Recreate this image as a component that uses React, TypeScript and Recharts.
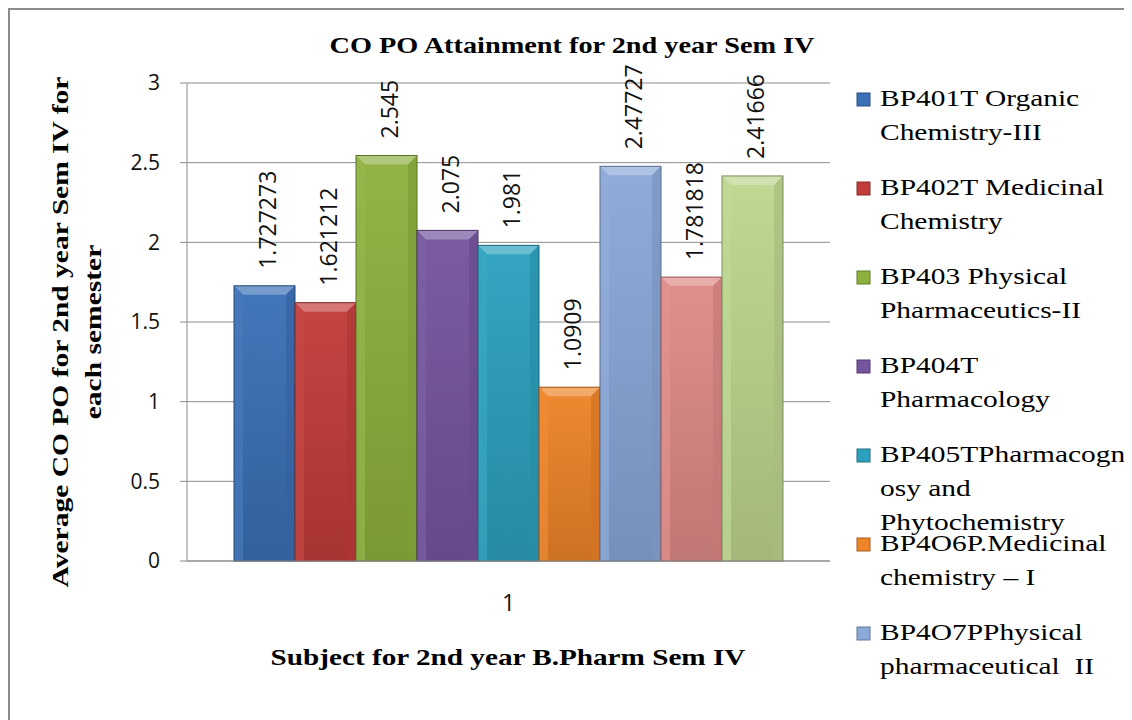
import React from "react";
import { BarChart, Bar, XAxis, YAxis, CartesianGrid, LabelList } from "recharts";

// one category, nine subjects (legend is clipped after the 7th entry in the original)
const categories = ["1"];
const seriesNames = [
  "BP401T Organic\nChemistry-III",
  "BP402T Medicinal\nChemistry",
  "BP403 Physical\nPharmaceutics-II",
  "BP404T\nPharmacology",
  "BP405TPharmacogn\nosy and\nPhytochemistry",
  "BP4O6P.Medicinal\nchemistry – I",
  "BP4O7PPhysical\npharmaceutical  II",
  "BP4O8P\nPharmacology-I",
  "BP4O9P\nPharmacognosy-I",
];
const seriesValues = [1.727273, 1.621212, 2.545, 2.075, 1.981, 1.0909, 2.47727, 1.781818, 2.41666];
const seriesColors = [
  "#3b70b7", "#c23d3a", "#8db13f", "#75559e", "#2ca1be",
  "#ee8428", "#8aa8d8", "#e08a88", "#bdd68e",
];
const yTicks = [0, 0.5, 1, 1.5, 2, 2.5, 3];

const title = "CO PO Attainment for 2nd year Sem IV";
const xTitle = "Subject for 2nd year B.Pharm Sem IV";
const yTitle = ["Average CO PO for 2nd year Sem IV for", "each semester"];

const data = categories.map((name) => {
  const row: Record<string, string | number> = { name };
  seriesValues.forEach((v, i) => (row["s" + i] = v));
  return row;
});

const serif = "'Liberation Serif', 'Times New Roman', serif";
const sans = "'Open Sans', sans-serif";

const CHART_W = 1120;
const CHART_H = 712;
const LEGEND_TOP = 96;
const LEGEND_STEP = 89;
const LINE_H = 34;

function shade(hex: string, amt: number) {
  const n = parseInt(hex.slice(1), 16);
  const ch = [(n >> 16) & 255, (n >> 8) & 255, n & 255].map((c) =>
    Math.round(amt >= 0 ? c + (255 - c) * amt : c * (1 + amt))
  );
  return "rgb(" + ch.join(",") + ")";
}

function BevelBar(props: any) {
  const { x, y, width, height, color, idx } = props;
  if (!height || height <= 0) return null;
  const b = Math.min(9, width / 4, height / 2);
  const id = "bar-grad-" + idx;
  return (
    <g>
      <defs>
        <linearGradient id={id} x1="0" y1="0" x2="0" y2="1">
          <stop offset="0" stopColor={shade(color, 0.04)} />
          <stop offset="1" stopColor={shade(color, -0.14)} />
        </linearGradient>
      </defs>
      <rect x={x} y={y} width={width} height={height} fill={`url(#${id})`} />
      <polygon
        points={`${x},${y} ${x + width},${y} ${x + width - b},${y + b} ${x + b},${y + b}`}
        fill={shade(color, 0.3)}
      />
      <polygon
        points={`${x},${y} ${x + b},${y + b} ${x + b},${y + height} ${x},${y + height}`}
        fill={shade(color, 0.06)}
        opacity={0.7}
      />
      <polygon
        points={`${x + width},${y} ${x + width - b},${y + b} ${x + width - b},${y + height} ${x + width},${y + height}`}
        fill={shade(color, -0.12)}
        opacity={0.7}
      />
      <rect x={x} y={y} width={width} height={height} fill="none" stroke={shade(color, -0.35)} strokeWidth={1} />
    </g>
  );
}

function RotLabel(props: any) {
  const { x, y, width, value } = props;
  const cx = Number(x) + Number(width) / 2;
  const by = Number(y) - 17;
  return (
    <text transform={`translate(${cx},${by}) rotate(-90)`} x={0} y={11} fontFamily={sans} fontSize={23} fill="#111">
      {value}
    </text>
  );
}

export default function App() {
  // like the original, the legend only keeps the entries that fit in the chart area
  const legendItems = seriesNames
    .map((name, i) => ({ i, lines: name.split("\n"), base: LEGEND_TOP + i * LEGEND_STEP }))
    .filter((it) => it.base + (it.lines.length - 1) * LINE_H + 10 < CHART_H - 20);

  return (
    <div
      style={{
        position: "relative",
        width: 1124,
        height: 716,
        border: "2px solid #8c8c8c",
        boxSizing: "border-box",
        overflow: "hidden",
        background: "#fff",
      }}
    >
      <style>{"html,body{overflow:hidden}"}</style>
      <BarChart
        width={CHART_W}
        height={CHART_H}
        data={data}
        margin={{ top: 73, right: 300, left: 97, bottom: 101 }}
        barCategoryGap={47}
        barGap={0}
      >
        <CartesianGrid vertical={false} stroke="#8c8c8c" />
        <XAxis
          dataKey="name"
          height={60}
          tickLine={false}
          axisLine={{ stroke: "#8c8c8c" }}
          tickMargin={28}
          tick={{ fontFamily: sans, fontSize: 23, fill: "#111" }}
        />
        <YAxis
          width={80}
          domain={[0, 3]}
          ticks={yTicks}
          tickSize={7}
          tickMargin={20}
          axisLine={{ stroke: "#8c8c8c" }}
          tickLine={{ stroke: "#8c8c8c" }}
          tick={{ fontFamily: sans, fontSize: 21, fill: "#111" }}
        />
        {seriesValues.map((_, i) => (
          <Bar
            key={i}
            dataKey={"s" + i}
            name={seriesNames[i]}
            fill={seriesColors[i]}
            isAnimationActive={false}
            shape={(p: any) => <BevelBar {...p} color={seriesColors[i]} idx={i} />}
          >
            <LabelList dataKey={"s" + i} content={(p: any) => <RotLabel {...p} />} />
          </Bar>
        ))}
      </BarChart>
      <svg width={CHART_W} height={CHART_H} style={{ position: "absolute", left: 0, top: 0, pointerEvents: "none" }}>
        <text transform="translate(562,43) scale(1.23,1)" textAnchor="middle" fontFamily={serif} fontWeight="bold" fontSize={23} fill="#000">
          {title}
        </text>
        <text transform="translate(498,655) scale(1.27,1)" textAnchor="middle" fontFamily={serif} fontWeight="bold" fontSize={23} fill="#000">
          {xTitle}
        </text>
        {yTitle.map((t, k) => (
          <text
            key={k}
            transform={`translate(${58 + k * 33},322) rotate(-90) scale(1.23,1)`}
            textAnchor="middle"
            fontFamily={serif}
            fontWeight="bold"
            fontSize={24}
            fill="#000"
          >
            {t}
          </text>
        ))}
        {legendItems.map(({ i, lines, base }) => (
          <g key={i}>
            <rect x={847} y={base - 13} width={13} height={13} fill={seriesColors[i]} stroke={shade(seriesColors[i], -0.3)} />
            {lines.map((line, k) => (
              <text
                key={k}
                transform={`translate(870,${base + k * LINE_H}) scale(1.28,1)`}
                fontFamily={serif}
                fontSize={23}
                fill="#000"
                style={{ whiteSpace: "pre" }}
              >
                {line}
              </text>
            ))}
          </g>
        ))}
      </svg>
    </div>
  );
}
